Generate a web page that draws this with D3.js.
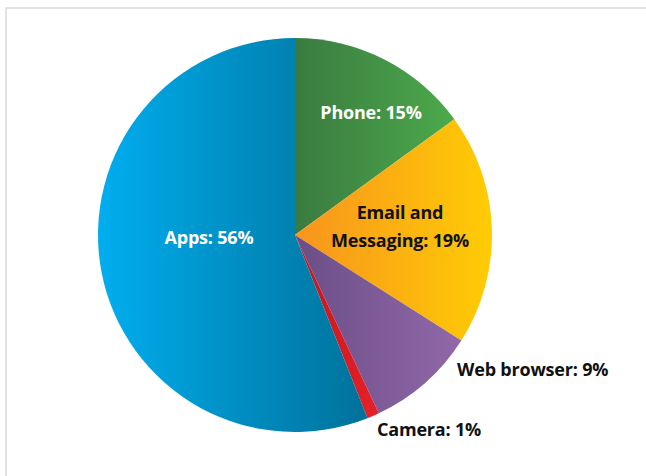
<!DOCTYPE html>
<html><head><meta charset="utf-8">
<script src="https://cdn.jsdelivr.net/npm/d3@7"></script>
<style>
html,body{margin:0;padding:0;background:#fff;}
svg{display:block;}
text{font-family:"Open Sans",Lato,sans-serif;font-weight:700;}
</style></head>
<body>
<svg id="chart" width="646" height="476"></svg>
<script>
const categories = ["Phone", "Email and Messaging", "Web browser", "Camera", "Apps"];
const values = [15, 19, 9, 1, 56];
const labelLines = [["Phone: 15%"], ["Email and", "Messaging: 19%"], ["Web browser: 9%"], ["Camera: 1%"], ["Apps: 56%"]];
const gradStart = ["#3a7b40", "#f7941d", "#6b4e86", "#c3151c", "#00aeef"];
const gradEnd = ["#4caa4c", "#ffcc05", "#9168a9", "#e52129", "#00719a"];

const W = 646, H = 476;
const cx = 295, cy = 235, R = 197;
const svg = d3.select("#chart");

// frame
svg.append("rect").attr("x", 6).attr("y", 8).attr("width", W + 20).attr("height", H + 20)
  .attr("fill", "none").attr("stroke", "#e2e2e2").attr("stroke-width", 2);

const defs = svg.append("defs");
categories.forEach((c, i) => {
  const g = defs.append("linearGradient").attr("id", "g" + i)
    .attr("x1", 0).attr("y1", 0).attr("x2", 1).attr("y2", 0);
  g.append("stop").attr("offset", 0).attr("stop-color", gradStart[i]);
  g.append("stop").attr("offset", 1).attr("stop-color", gradEnd[i]);
});

const pie = d3.pie().sort(null).value(d => d);
const arcs = pie(values);
const arc = d3.arc().innerRadius(0).outerRadius(R);

const g = svg.append("g").attr("transform", `translate(${cx},${cy})`);
g.selectAll("path").data(arcs).enter().append("path")
  .attr("d", arc).attr("fill", (d, i) => `url(#g${i})`);

// label layout (offsets from pie centre of the label block's centre)
const labelLayout = [
  {dx: 76, dy: -122, anchor: "middle", color: "#fff"},
  {dx: 105, dy: -8, anchor: "middle", color: "#111"},
  {dx: 162, dy: 135, anchor: "start", color: "#111"},
  {dx: 82, dy: 195, anchor: "start", color: "#111"},
  {dx: -86, dy: 3, anchor: "middle", color: "#fff"}
];
const fs = 18, lh = 28;
arcs.forEach((d, i) => {
  const L = labelLayout[i];
  const lines = labelLines[i];
  const t = g.append("text").attr("text-anchor", L.anchor).attr("fill", L.color)
    .attr("font-size", fs).attr("letter-spacing", -0.2);
  lines.forEach((ln, k) => {
    t.append("tspan").attr("x", L.dx).attr("y", L.dy + (k - (lines.length - 1) / 2) * lh + fs * 0.36).text(ln);
  });
});
</script>
</body></html>
